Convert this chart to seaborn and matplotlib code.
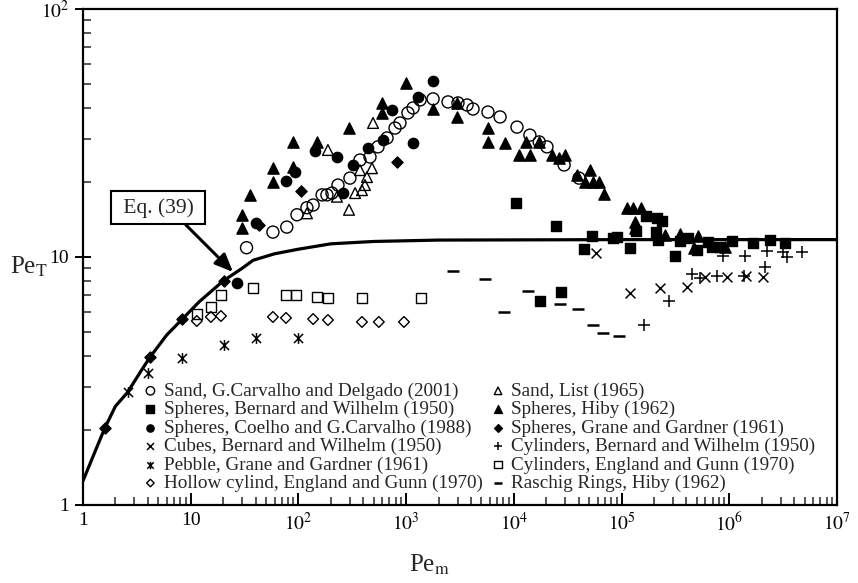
import matplotlib
matplotlib.use("Agg")
import matplotlib.pyplot as plt
import seaborn as sns
from matplotlib.path import Path
from matplotlib.ticker import LogLocator, FixedLocator, FixedFormatter, NullFormatter

# ---------------- data ----------------
curve_x = [1, 1.3, 1.6, 2, 2.6, 3.5, 4.2, 6, 8.3, 12, 20, 30, 38, 60, 100, 200, 500, 2000, 1e5, 1e7]
curve_y = [1.25, 1.65, 2.05, 2.5, 2.85, 3.5, 3.95, 4.85, 5.6, 6.6, 8.0, 9.0, 9.7, 10.3, 10.75, 11.3, 11.55, 11.7, 11.75, 11.75]

sand_gcd_x = [33, 58, 78, 97, 120, 137, 166, 184, 205, 233, 301, 373, 462, 548, 665, 789, 877, 1040,
              1160, 1350, 1780, 2450, 3030, 3680, 4180, 5750, 7450, 10700, 14100, 17200, 20300, 29300, 40300]
sand_gcd_y = [10.9, 12.6, 13.2, 14.8, 15.8, 16.2, 17.8, 17.8, 18.1, 19.5, 20.8, 24.6, 25.3, 27.8, 30.2, 33.1,
              34.7, 38.1, 39.9, 43.0, 43.4, 42.2, 41.8, 41.0, 39.5, 38.4, 36.7, 33.4, 31.0, 29.1, 27.8, 23.5, 20.8]

sand_list_x = [120, 188, 228, 295, 336, 373, 389, 415, 433, 482, 493]
sand_list_y = [15.0, 27.0, 17.5, 15.5, 18.1, 22.4, 18.6, 19.5, 21.0, 22.8, 34.7]

sph_bw_x = [10470, 24640, 44850, 53200, 83400, 90800, 120000, 136400, 168700, 213600, 237700, 208900,
            218100, 314000, 349300, 414000, 502000, 635000, 692000, 822000, 1061000, 1663000, 2392000,
            3296000, 27420, 17510]
sph_bw_y = [16.5, 13.3, 10.8, 12.2, 11.9, 12.0, 10.9, 12.7, 14.6, 14.4, 14.0, 12.6, 11.7, 10.1, 11.6, 11.9,
            10.7, 11.5, 11.0, 11.0, 11.6, 11.4, 11.7, 11.4, 7.22, 6.65]

sph_hiby_x = [29.9, 29.9, 35.5, 58, 58, 89, 89, 149, 295, 597, 597, 998, 1778, 2972, 2972, 5754, 5754,
              8280, 11170, 14130, 12970, 17150, 22650, 26300, 29870, 38640, 51000, 45800, 54300, 61800,
              68900, 112500, 128000, 151800, 133400, 133400, 253500, 349300, 513000, 471000, 914000]
sph_hiby_y = [13.1, 14.8, 17.8, 20.1, 22.8, 23.1, 29.1, 29.1, 33.1, 41.8, 38.1, 50.3, 39.5, 41.8, 36.7,
              33.1, 29.1, 28.8, 25.8, 25.8, 29.1, 29.1, 25.8, 25.1, 25.8, 21.4, 22.4, 20.1, 20.1, 20.1,
              17.9, 15.8, 15.8, 15.8, 13.8, 13.1, 12.3, 12.4, 12.2, 10.9, 11.0]

sph_coelho_x = [26.9, 40.4, 76.7, 93, 143, 228, 259, 321, 443, 611, 740, 1160, 1290, 1780]
sph_coelho_y = [7.85, 13.7, 20.3, 22.0, 26.7, 25.3, 18.1, 23.5, 27.5, 29.6, 39.2, 28.8, 44.2, 51.3]

sph_grane_x = [1.6, 4.2, 8.3, 20.4, 43, 106, 824]
sph_grane_y = [2.05, 3.95, 5.6, 8.0, 13.5, 18.5, 24.2]

cubes_x = [57900, 120000, 227600, 405600, 596000, 955000, 1432000, 2061000]
cubes_y = [10.4, 7.16, 7.5, 7.57, 8.3, 8.3, 8.38, 8.3]

cyl_bw_x = [161800, 276000, 451500, 535800, 771000, 875000, 1403000, 1372000, 2148000, 2243000,
            3162000, 3443000, 4745000]
cyl_bw_y = [5.32, 6.65, 8.54, 8.23, 8.38, 10.1, 10.1, 8.38, 9.12, 10.6, 10.5, 10.0, 10.5]

pebble_x = [2.6, 4.0, 8.3, 20.4, 40, 99]
pebble_y = [2.85, 3.4, 3.9, 4.4, 4.7, 4.7]

cyl_eg_x = [11.4, 15.4, 19.1, 37.9, 76.7, 95, 149, 188, 389, 1374]
cyl_eg_y = [5.89, 6.29, 7.03, 7.5, 7.03, 7.03, 6.9, 6.83, 6.83, 6.83]

hollow_x = [11.4, 15.4, 19.1, 58, 76.7, 137, 188, 389, 558, 955]
hollow_y = [5.52, 5.73, 5.78, 5.73, 5.68, 5.62, 5.57, 5.47, 5.47, 5.47]

raschig_x = [2728, 5404, 8110, 13550, 26850, 39450, 54300, 67300, 94800]
raschig_y = [8.78, 8.15, 6.0, 7.29, 6.46, 6.17, 5.32, 4.94, 4.80]

x_ticks = [1, 10, 100, 1e3, 1e4, 1e5, 1e6, 1e7]
x_ticklabels = ["1", "10", "$10^2$", "$10^3$", "$10^4$", "$10^5$", "$10^6$", "$10^7$"]
y_ticks = [1, 10, 100]
y_ticklabels = ["1", "10", "$10^2$"]

# ---------------- style ----------------
sns.set_theme(style="ticks")
plt.rcParams["font.family"] = ["Liberation Serif", "DejaVu Serif"]
plt.rcParams["mathtext.fontset"] = "stix"
plt.rcParams["axes.linewidth"] = 1.6

fig = plt.figure(figsize=(8.58, 5.83), dpi=100)
ax = fig.add_axes([0.0967, 0.1338, 0.8788, 0.8508])
ax.set_xscale("log")
ax.set_yscale("log")

sns.lineplot(x=curve_x, y=curve_y, color="black", lw=2.3, ax=ax, estimator=None, sort=True)

asterisk = Path([(0, -1), (0, 1), (-0.85, -0.85), (0.85, 0.85), (-0.85, 0.85), (0.85, -0.85)],
                [Path.MOVETO, Path.LINETO, Path.MOVETO, Path.LINETO, Path.MOVETO, Path.LINETO])


def filled(x, y, label, marker, s, fc="black", lw=1.0):
    sns.scatterplot(x=x, y=y, marker=marker, s=s, facecolor=fc, edgecolor="black",
                    linewidth=lw, label=label, ax=ax, legend=False, zorder=3)


def lines(x, y, label, marker, s, lw=1.1):
    sns.scatterplot(x=x, y=y, marker=marker, s=s, color="black", edgecolor=None,
                    linewidth=lw, label=label, ax=ax, legend=False, zorder=3)


filled(sand_gcd_x, sand_gcd_y, "Sand, G.Carvalho and Delgado (2001)", "o", 75, fc="none")
filled(sph_bw_x, sph_bw_y, "Spheres, Bernard and Wilhelm (1950)", "s", 55)
filled(sph_coelho_x, sph_coelho_y, "Spheres, Coelho and G.Carvalho (1988)", "o", 55)
lines(cubes_x, cubes_y, "Cubes, Bernard and Wilhelm (1950)", "x", 50)
filled(pebble_x, pebble_y, "Pebble, Grane and Gardner (1961)", asterisk, 60, lw=1.1)
filled(hollow_x, hollow_y, "Hollow cylind, England and Gunn (1970)", "D", 30, fc="none")
filled(sand_list_x, sand_list_y, "Sand, List (1965)", "^", 60, fc="none")
filled(sph_hiby_x, sph_hiby_y, "Spheres, Hiby (1962)", "^", 65)
filled(sph_grane_x, sph_grane_y, "Spheres, Grane and Gardner (1961)", "D", 32)
lines(cyl_bw_x, cyl_bw_y, "Cylinders, Bernard and Wilhelm (1950)", "+", 70)
filled(cyl_eg_x, cyl_eg_y, "Cylinders, England and Gunn (1970)", "s", 55, fc="none")
lines(raschig_x, raschig_y, "Raschig Rings, Hiby (1962)", "_", 70, lw=1.8)

ax.set_xlim(1, 1e7)
ax.set_ylim(1, 100)

ax.xaxis.set_major_locator(FixedLocator(x_ticks))
ax.xaxis.set_major_formatter(FixedFormatter(x_ticklabels))
ax.yaxis.set_major_locator(FixedLocator(y_ticks))
ax.yaxis.set_major_formatter(FixedFormatter(y_ticklabels))
ax.xaxis.set_minor_locator(LogLocator(base=10, subs=range(2, 10), numticks=20))
ax.yaxis.set_minor_locator(LogLocator(base=10, subs=range(2, 10), numticks=20))
ax.xaxis.set_minor_formatter(NullFormatter())
ax.yaxis.set_minor_formatter(NullFormatter())
ax.tick_params(axis="y", which="major", direction="inout", length=12, width=1.4, labelsize=14,
               colors="black", pad=4)
ax.tick_params(axis="x", which="major", direction="in", length=9, width=1.4, labelsize=14,
               colors="black", pad=5)
ax.tick_params(which="minor", direction="in", length=6, width=1.1)
ax.tick_params(top=False, right=False, which="both")
for sp in ax.spines.values():
    sp.set_color("black")

ax.set_xlabel("Pe$_\\mathrm{m}$", fontsize=18, va="center", ha="center")
ax.set_ylabel("Pe$_\\mathrm{T}$", fontsize=18, rotation=0, va="center", ha="center")
ax.xaxis.set_label_coords(0.46, -0.12)
ax.yaxis.set_label_coords(-0.072, 0.48)

ax.annotate(" Eq. (39) ", xy=(24.7, 8.7), xytext=(5.0, 15.8), fontsize=15.5, ha="center", va="center",
            bbox=dict(boxstyle="square,pad=0.3", fc="white", ec="black", lw=1.5),
            arrowprops=dict(arrowstyle="-|>,head_length=0.7,head_width=0.3", lw=2.2, color="black",
                            shrinkA=0, shrinkB=0, relpos=(0.75, 0)))

handles, labels = ax.get_legend_handles_labels()
order = ["Sand, G.Carvalho and Delgado (2001)", "Spheres, Bernard and Wilhelm (1950)",
         "Spheres, Coelho and G.Carvalho (1988)", "Cubes, Bernard and Wilhelm (1950)",
         "Pebble, Grane and Gardner (1961)", "Hollow cylind, England and Gunn (1970)",
         "Sand, List (1965)", "Spheres, Hiby (1962)", "Spheres, Grane and Gardner (1961)",
         "Cylinders, Bernard and Wilhelm (1950)", "Cylinders, England and Gunn (1970)",
         "Raschig Rings, Hiby (1962)"]
hmap = dict(zip(labels, handles))
ax.legend([hmap[l] for l in order], order, ncol=2, loc="lower left", bbox_to_anchor=(0.078, 0.026),
          frameon=False, fontsize=13.8, handletextpad=0.25, columnspacing=0.35, labelspacing=0.05,
          borderaxespad=0, borderpad=0, markerscale=0.7, handlelength=0.9)

fig.savefig("out.png", dpi=100)
